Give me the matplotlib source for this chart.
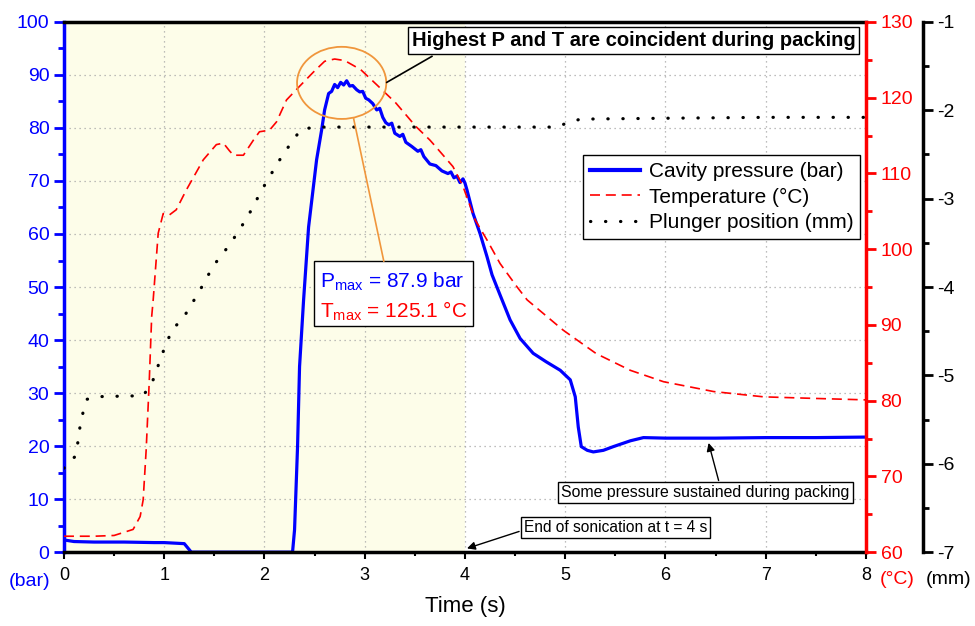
import numpy as np
import matplotlib
matplotlib.use("Agg")
import matplotlib.pyplot as plt
from matplotlib.patches import Ellipse, Rectangle
from matplotlib.lines import Line2D
from matplotlib.ticker import MultipleLocator

plt.rcParams['font.family'] = ['Liberation Sans', 'DejaVu Sans']
plt.rcParams['mathtext.fontset'] = 'custom'
plt.rcParams['mathtext.rm'] = 'Liberation Sans'
plt.rcParams['mathtext.it'] = 'Liberation Sans'
plt.rcParams['axes.unicode_minus'] = False

# cavity pressure (bar)
time_p = [0, 0.1, 0.3, 0.6, 0.9, 1.0, 1.1, 1.2, 1.27, 2.0, 2.28, 2.30, 2.33, 2.35, 2.39,
          2.44, 2.52, 2.57, 2.60, 2.64, 2.67, 2.70, 2.73, 2.76, 2.79, 2.82, 2.85, 2.88,
          2.92, 2.95, 2.98, 3.01, 3.04, 3.08, 3.12, 3.15, 3.18, 3.21, 3.24, 3.27, 3.30,
          3.35, 3.38, 3.41, 3.47, 3.53, 3.56, 3.59, 3.65, 3.71, 3.77, 3.83, 3.86, 3.89,
          3.92, 3.95, 3.98, 4.0, 4.02, 4.08, 4.15, 4.22, 4.27, 4.35, 4.45, 4.55, 4.68,
          4.81, 4.95, 5.05, 5.10, 5.13, 5.16, 5.22, 5.28, 5.38, 5.48, 5.65, 5.78, 6.0,
          6.5, 7.0, 7.5, 8.0]
pressure = [2.3, 2.0, 1.9, 1.9, 1.8, 1.8, 1.7, 1.6, 0.0, 0.0, 0.0, 4.2, 19.9, 35.0, 47.5,
            61.3, 74.0, 79.6, 83.4, 86.5, 86.9, 88.2, 87.6, 88.6, 88.1, 88.9, 87.9, 88.0,
            87.2, 86.8, 86.9, 85.6, 85.3, 84.6, 83.4, 83.7, 82.0, 81.0, 80.6, 80.9, 79.0,
            78.4, 78.8, 77.3, 76.5, 75.6, 75.9, 74.6, 73.2, 72.9, 71.9, 71.4, 71.7, 70.6,
            70.9, 69.7, 70.4, 69.6, 68.3, 63.9, 60.1, 55.7, 52.3, 48.5, 43.8, 40.3, 37.5,
            35.9, 34.3, 32.5, 29.3, 23.6, 19.9, 19.2, 18.9, 19.2, 19.9, 21.0, 21.6, 21.5,
            21.5, 21.6, 21.6, 21.7]

# temperature (°C)
time_t = [0, 0.3, 0.5, 0.69, 0.76, 0.79, 0.82, 0.85, 0.875, 0.89, 0.94, 0.99, 1.05, 1.12,
          1.22, 1.39, 1.52, 1.59, 1.65, 1.69, 1.79, 1.89, 1.95, 2.05, 2.12, 2.22, 2.35,
          2.49, 2.60, 2.70, 2.80, 2.96, 3.12, 3.31, 3.51, 3.65, 3.71, 3.88, 3.98, 4.10,
          4.22, 4.35, 4.52, 4.62, 4.98, 5.31, 5.65, 5.98, 6.48, 6.98, 7.47, 8.0]
temp = [62.1, 62.1, 62.2, 63.0, 64.7, 66.9, 73.5, 82.3, 91.1, 93.3, 102.1, 104.7, 104.5,
        105.2, 107.8, 111.8, 113.8, 114.0, 113.0, 112.4, 112.4, 114.4, 115.5, 115.7, 116.8,
        119.7, 121.5, 123.4, 124.8, 125.1, 124.9, 123.7, 121.7, 119.3, 116.2, 114.4, 113.5,
        110.9, 108.3, 103.9, 101.2, 98.1, 95.0, 93.3, 89.3, 86.2, 84.0, 82.5, 81.2, 80.5,
        80.3, 80.1]

# plunger position (mm)
time_m = [0.0, 0.02, 0.11, 0.14, 0.16, 0.19, 0.23, 0.36, 0.79, 0.88, 0.93, 0.98, 1.03,
          1.09, 1.19, 1.27, 1.35, 1.49, 1.66, 1.83, 1.97, 2.03, 2.11, 2.19, 2.28, 2.36,
          2.50, 3.0, 4.0, 4.89, 5.01, 5.15, 6.0, 7.0, 8.0]
plunger = [-6.05, -6.01, -5.92, -5.75, -5.58, -5.42, -5.27, -5.24, -5.23, -5.08, -4.92,
           -4.76, -4.61, -4.47, -4.35, -4.20, -4.05, -3.76, -3.51, -3.21, -2.91, -2.79,
           -2.64, -2.49, -2.35, -2.22, -2.19, -2.19, -2.19, -2.19, -2.15, -2.10, -2.09,
           -2.08, -2.08]

fig = plt.figure(figsize=(9.75, 6.26), dpi=100)
ax = fig.add_axes([0.0656, 0.118, 0.8226, 0.847])
ax_t = ax.twinx()
ax_m = ax.twinx()
ax_m.spines['right'].set_position(('outward', 41))

ax.axvspan(0, 4, color='#fdfde9', zorder=0, lw=0)
ax.set_axisbelow(True)
ax.grid(True, which='major', linestyle=(0, (1, 3)), color='#a8a8a8', lw=0.9)

dots = (0, (0.1, 4.6))
ax.plot(time_p, pressure, color='#0000ff', lw=2.3)
ax_t.plot(time_t, temp, color='#ff0000', lw=1.2, linestyle=(0, (6, 3.5)))
ax_m.plot(time_m, plunger, color='black', lw=2.3, linestyle=dots, dash_capstyle='round')

ax.set_xlim(0, 8)
ax.set_ylim(0, 100)

ax.xaxis.set_major_locator(MultipleLocator(1))
ax.xaxis.set_minor_locator(MultipleLocator(0.5))
ax.yaxis.set_major_locator(MultipleLocator(10))
ax.yaxis.set_minor_locator(MultipleLocator(5))
ax_t.yaxis.set_major_locator(MultipleLocator(10))
ax_t.yaxis.set_minor_locator(MultipleLocator(5))
ax_m.yaxis.set_major_locator(MultipleLocator(1))
ax_m.yaxis.set_minor_locator(MultipleLocator(0.5))

for a in (ax_t, ax_m):
    for s in ('left', 'top', 'bottom'):
        a.spines[s].set_visible(False)
ax.spines['right'].set_visible(False)
ax.spines['left'].set_color('#0000ff')
ax.spines['left'].set_linewidth(2.5)
ax.spines['bottom'].set_linewidth(2.5)
ax.spines['top'].set_linewidth(2.5)
ax_t.spines['right'].set_color('#ff0000')
ax_t.spines['right'].set_linewidth(2.5)
ax_m.spines['right'].set_linewidth(2.5)

ax.tick_params(axis='x', which='major', length=5, width=1.5, labelsize=13, pad=6)
ax.tick_params(axis='x', which='minor', length=3, width=1.5)
ax.tick_params(axis='y', which='major', length=7, width=2, colors='#0000ff', labelsize=14)
ax.tick_params(axis='y', which='minor', length=4, width=2, colors='#0000ff')
ax_t.tick_params(axis='y', which='major', length=7, width=2, colors='#ff0000', labelsize=14)
ax_t.tick_params(axis='y', which='minor', length=4, width=2, colors='#ff0000')
ax_m.tick_params(axis='y', which='major', length=7, width=2, labelsize=14)
ax_m.tick_params(axis='y', which='minor', length=4, width=2)

ax.set_xlabel('Time (s)', fontsize=16, labelpad=8)

fig.text(30 / 975, 1 - 582 / 626, '(bar)', color='#0000ff', fontsize=14, ha='center', va='center')
fig.text(897 / 975, 1 - 579 / 626, '(°C)', color='#ff0000', fontsize=14, ha='center', va='center')
fig.text(949 / 975, 1 - 579 / 626, '(mm)', color='black', fontsize=14, ha='center', va='center')

# annotations, drawn on the top axes in pressure/time coordinates
tr = ax.transData
ax_m.add_patch(Ellipse((2.77, 88.5), 0.89, 13.6, transform=tr, fill=False,
                       ec='#f0963c', lw=1.3))
ax_m.plot([2.89, 3.19], [81.7, 54.9], transform=tr, color='#f0963c', lw=1.2)
ax_m.plot([3.22, 3.67], [88.6, 93.5], transform=tr, color='black', lw=1.2)

box = dict(boxstyle='square,pad=0.2', fc='white', ec='black', lw=1)
ax_m.text(5.68, 96.5, 'Highest P and T are coincident during packing', transform=tr,
          fontsize=14.5, fontweight='bold', ha='center', va='center', bbox=box)

ax_m.add_patch(Rectangle((2.494, 42.6), 1.586, 12.3, transform=tr,
                         fc='white', ec='black', lw=1))
ax_m.text(2.55, 51.0, r'P$_{\rm max}$ = 87.9 bar', transform=tr, color='#0000ff',
          fontsize=15, ha='left', va='center')
ax_m.text(2.55, 45.4, r'T$_{\rm max}$ = 125.1 °C', transform=tr, color='#ff0000',
          fontsize=15, ha='left', va='center')

ax_m.text(6.40, 11.3, 'Some pressure sustained during packing', transform=tr,
          fontsize=11.4, ha='center', va='center', bbox=box)
ax_m.annotate('', xy=(6.43, 20.6), xytext=(6.53, 13.5), xycoords=tr, textcoords=tr,
              arrowprops=dict(arrowstyle='-|>', color='black', lw=1, shrinkA=0, shrinkB=0,
                              mutation_scale=12))
ax_m.text(5.50, 4.7, 'End of sonication at t = 4 s', transform=tr,
          fontsize=11.2, ha='center', va='center', bbox=box)
ax_m.annotate('', xy=(4.02, 0.7), xytext=(4.54, 3.9), xycoords=tr, textcoords=tr,
              arrowprops=dict(arrowstyle='-|>', color='black', lw=1, shrinkA=0, shrinkB=0,
                              mutation_scale=12))

handles = [Line2D([], [], color='#0000ff', lw=3),
           Line2D([], [], color='#ff0000', lw=1.2, linestyle=(0, (6, 3.5))),
           Line2D([], [], color='black', lw=2.3, linestyle=dots, dash_capstyle='round')]
labels = ['Cavity pressure (bar)', 'Temperature (°C)', 'Plunger position (mm)']
leg = ax_m.legend(handles, labels, loc='upper left', bbox_to_anchor=(0.647, 0.749),
                  bbox_transform=ax.transAxes, fontsize=15, frameon=True, fancybox=False,
                  framealpha=1, edgecolor='black', handlelength=2.4, handletextpad=0.4,
                  labelspacing=0.3, borderpad=0.35, borderaxespad=0)
leg.get_frame().set_linewidth(1)

ax_t.set_ylim(60, 130)
ax_m.set_ylim(-7, -1)

fig.savefig('out.png', dpi=100)
